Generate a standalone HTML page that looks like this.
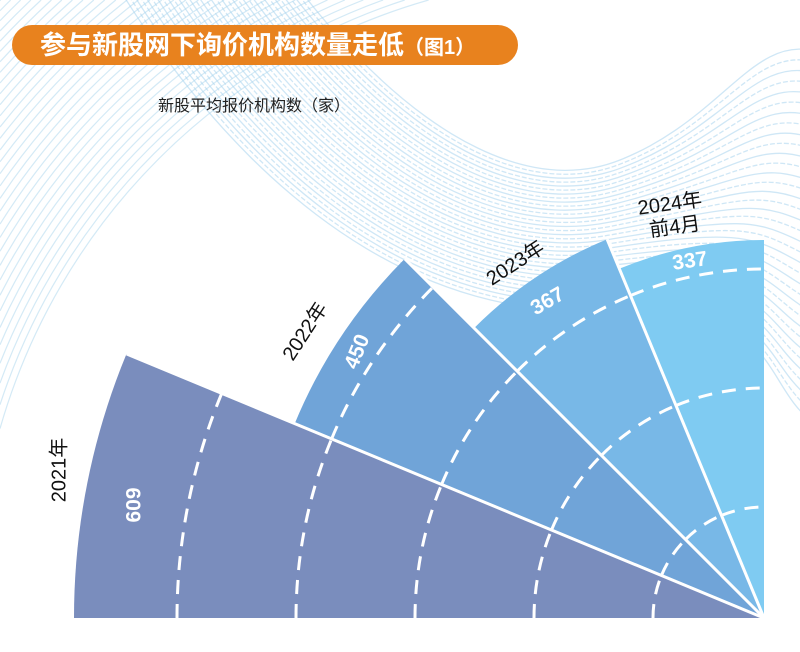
<!DOCTYPE html>
<html><head><meta charset="utf-8">
<style>
html,body{margin:0;padding:0;background:#fff;}
#w{position:relative;width:800px;height:652px;overflow:hidden;font-family:"Liberation Sans","Noto Sans CJK SC",sans-serif;}
svg{position:absolute;left:0;top:0;}
.title{position:absolute;left:12px;top:25px;width:506px;height:40px;background:#e8821e;border-radius:20px;color:#fff;font-weight:bold;font-size:26px;line-height:40px;text-indent:28px;font-family:"Liberation Sans","Noto Sans CJK SC",sans-serif;white-space:nowrap;}
.sub{position:absolute;left:158px;top:92px;font-size:16px;color:#222;}
</style></head><body>
<div id="w">
<svg id="s" width="800" height="652" viewBox="0 0 800 652"></svg>
<div class="title">参与新股网下询价机构数量走低<span style="font-size:20px">（图1）</span></div>
<div class="sub">新股平均报价机构数（家）</div>
</div>
<script>
var s=document.getElementById('s');var h='';
function L(a,b,t){return (a+(b-a)*t).toFixed(1);}
var U=[300,-10,400,120,520,200,620,160,750,40,810,50];
var D=[120,-10,250,200,420,320,600,310,760,380,810,420];
for(var i=0;i<=34;i++){var t=i/34,p=[];for(var j=0;j<12;j++)p.push(L(U[j],D[j],t));
 h+='<path d="M '+p[0]+' '+p[1]+' C '+p[2]+' '+p[3]+', '+p[4]+' '+p[5]+', '+p[6]+' '+p[7]+' S '+p[8]+' '+p[9]+', '+p[10]+' '+p[11]+'" fill="none" stroke="#9fd0ee" stroke-width="1.3" stroke-dasharray="'+(i%2?'5 2':'30 0')+'" opacity="0.5"/>';}
var gx=600,gy=600;
for(var r=624;r<=850;r+=7){
 var yL=gy-Math.sqrt(r*r-gx*gx), xT=gx-Math.sqrt(r*r-gy*gy);
 h+='<path d="M 0 '+yL.toFixed(1)+' A '+r+' '+r+' 0 0 1 '+xT.toFixed(1)+' 0" fill="none" stroke="#a9d5ee" stroke-width="1.2" opacity="0.5"/>';}
var cx=764,cy=618;
function P(r,a){a=a*Math.PI/180;return [(cx-r*Math.cos(a)).toFixed(1),(cy-r*Math.sin(a)).toFixed(1)];}
var W=[[690,0,'#7a8dbd'],[508,22.5,'#70a4d8'],[410,45,'#78b8e7'],[378,67.5,'#7fcbf2']];
W.forEach(function(w){
 var r=w[0],a=w[1],b=a+22.5,p=P(r,a),q=P(r,b);
 h+='<path d="M '+cx+' '+cy+' L '+p+' A '+r+' '+r+' 0 0 1 '+q+' Z" fill="'+w[2]+'"/>';
 for(var k=1;k<=5;k++){var rr=k*119-8; if(rr>=r-5)break;
  h+='<path d="M '+P(rr,a)+' A '+rr+' '+rr+' 0 0 1 '+P(rr,b)+'" fill="none" stroke="#fff" stroke-width="3" stroke-dasharray="14 10"/>';}
});
for(var i=1;i<4;i++){var e=P(W[i-1][0],W[i][1]);h+='<line x1="'+cx+'" y1="'+cy+'" x2="'+e[0]+'" y2="'+e[1]+'" stroke="#fff" stroke-width="3"/>';}
function T(x,y,rot,t,c,sz,b){return '<text x="'+x+'" y="'+y+'" transform="rotate('+rot+' '+x+' '+y+')" text-anchor="middle" dominant-baseline="middle" font-size="'+sz+'" '+(b?'font-weight="bold" ':'')+'fill="'+c+'" font-family="Liberation Sans,Noto Sans CJK SC,sans-serif">'+t+'</text>';}
h+=T(135,505,-90,'609','#fff',21,1)+T(358,352,-68,'450','#fff',21,1)+T(548,302,-30,'367','#fff',21,1)+T(690,262,-8,'337','#fff',21,1);
h+=T(60,470,-90,'2021年','#111',20)+T(306,332,-57,'2022年','#111',20)+T(516,264,-33,'2023年','#111',20);
h+=T(670,205,-8,'2024年','#111',20)+T(675,228,-8,'前4月','#111',20);
s.innerHTML=h;
</script>
</body></html>
